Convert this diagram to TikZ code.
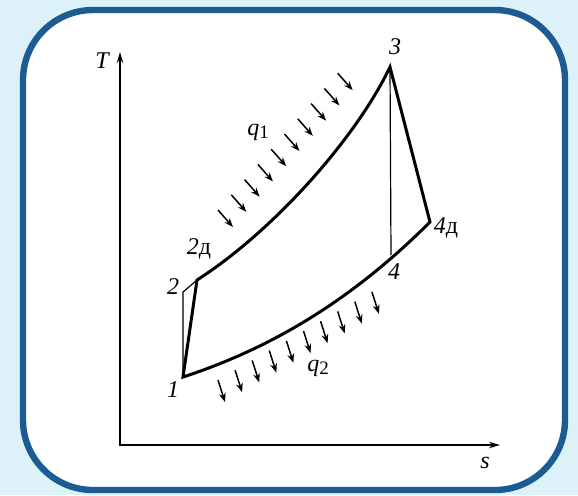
\documentclass[tikz,border=0pt]{standalone}
\usepackage{fontspec}
\setmainfont{Liberation Serif}
\usetikzlibrary{arrows.meta}
\definecolor{panelbg}{HTML}{DDF1F8}
\definecolor{framebl}{HTML}{1D5C93}

\begin{document}
\begin{tikzpicture}[x=0.5pt, y=-0.5pt, font=\fontsize{12}{14}\selectfont\itshape, lbl/.style={inner sep=0pt}, cyc/.style={line width=1.5pt}, fine/.style={line width=0.6pt}, axis/.style={line width=1pt, {Stealth[length=5.5pt,width=3.2pt]}-{Stealth[length=5.5pt,width=3.2pt]}}, heat/.style={line width=0.75pt, -{Stealth[length=4.5pt,width=3.4pt]}}]
\useasboundingbox (0,0) rectangle (578,495);
\fill[panelbg] (0,0) rectangle (578,495);
\draw[framebl, fill=white, line width=3.2pt, rounded corners=35pt] (23,10) rectangle (565,490);
% axes
\coordinate (O) at (120,445);
\coordinate (Tend) at (120,52);
\coordinate (send) at (500,445);
\draw[axis] (Tend) -- (O) -- (send);
\node[lbl] (lT) at (102,61) {T};
\node[lbl] (ls) at (485,463) {s};
% cycle points
\coordinate (p1) at (183,377);
\coordinate (p2) at (183,292);
\coordinate (p2d) at (197,280);
\coordinate (p3) at (390,67);
\coordinate (p4) at (391,255);
\coordinate (p4d) at (430,222);
\draw[cyc] (p1) -- (p2d) .. controls (272,232) and (355,140) .. (p3) -- (p4d) .. controls (355,297) and (275,347) .. cycle;
\draw[fine] (p1) -- (p2) -- (p2d);
\draw[fine] (p3) -- (p4);
\node[lbl] (l1) at (173,390) {1};
\node[lbl] (l2) at (173,287) {2};
\node[lbl] (l2d) at (199,249) {2\upshape д};
\node[lbl] (l3) at (395,47) {3};
\node[lbl] (l4) at (394,272) {4};
\node[lbl] (l4d) at (446,228) {4\upshape д};
% heat in and out
\foreach \i in {0,...,9}
  \draw[heat] ({218+13.3*\i},{210-15.2*\i}) -- ++(15,17);
\foreach \i in {0,...,9}
  \draw[heat] ({218+17.1*\i},{380-9.8*\i}) -- ++(7,22);
\node[lbl] (lq1) at (258,132) {q\raisebox{-0.35ex}{\fontsize{9.5}{10}\selectfont\upshape 1}};
\node[lbl] (lq2) at (318,368) {q\raisebox{-0.35ex}{\fontsize{9.5}{10}\selectfont\upshape 2}};
\end{tikzpicture}
\end{document}
